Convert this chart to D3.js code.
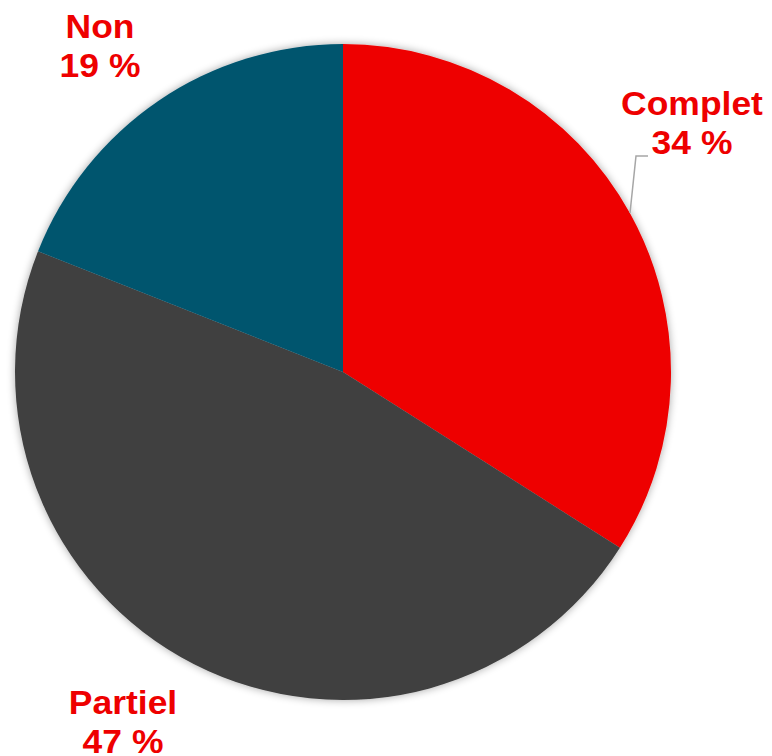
<!DOCTYPE html>
<html><head><meta charset="utf-8">
<script src="https://cdn.jsdelivr.net/npm/d3@7"></script>
<style>html,body{margin:0;padding:0;background:#fff;}svg{display:block;}</style>
</head><body>
<svg id="chart" width="772" height="756"></svg>
<script>
const categories = ["Complet", "Partiel", "Non"];
const values = [34, 47, 19];
const colors = ["#EE0000", "#404040", "#00546E"];
const labelPos = [[692, 115], [123, 714], [100, 38]];

const svg = d3.select("#chart");
const cx = 343, cy = 372, r = 328;

const defs = svg.append("defs");
const f = defs.append("filter").attr("id", "sh").attr("x", "-10%").attr("y", "-10%").attr("width", "120%").attr("height", "120%");
f.append("feGaussianBlur").attr("in", "SourceAlpha").attr("stdDeviation", 4).attr("result", "b");
f.append("feComponentTransfer").attr("in", "b").attr("result", "t")
  .append("feFuncA").attr("type", "linear").attr("slope", 0.35);
const m = f.append("feMerge");
m.append("feMergeNode").attr("in", "t");
m.append("feMergeNode").attr("in", "SourceGraphic");

const pie = d3.pie().sort(null).value(d => d)(values);
const arc = d3.arc().innerRadius(0).outerRadius(r);

const g = svg.append("g").attr("transform", `translate(${cx},${cy})`).attr("filter", "url(#sh)");
g.selectAll("path").data(pie).join("path")
  .attr("d", arc)
  .attr("fill", (d, i) => colors[i]);

// leader line for Complet
svg.append("polyline")
  .attr("points", [[630, 213], [636, 156], [648, 156]].map(p => p.join(",")).join(" "))
  .attr("fill", "none").attr("stroke", "#A6A6A6").attr("stroke-width", 1.5);

const lg = svg.append("g");
categories.forEach((c, i) => {
  const [x, y] = labelPos[i];
  const t = lg.append("text")
    .attr("transform", `translate(${x},${y}) scale(1.075,1)`)
    .attr("text-anchor", "middle")
    .attr("font-family", "Liberation Sans, Arial, sans-serif")
    .attr("font-weight", "bold").attr("font-size", 33)
    .attr("fill", "#EE0000");
  t.append("tspan").attr("x", 0).attr("y", 0).text(c);
  t.append("tspan").attr("x", 0).attr("dy", 39).text(values[i] + " %");
});
</script>
</body></html>
